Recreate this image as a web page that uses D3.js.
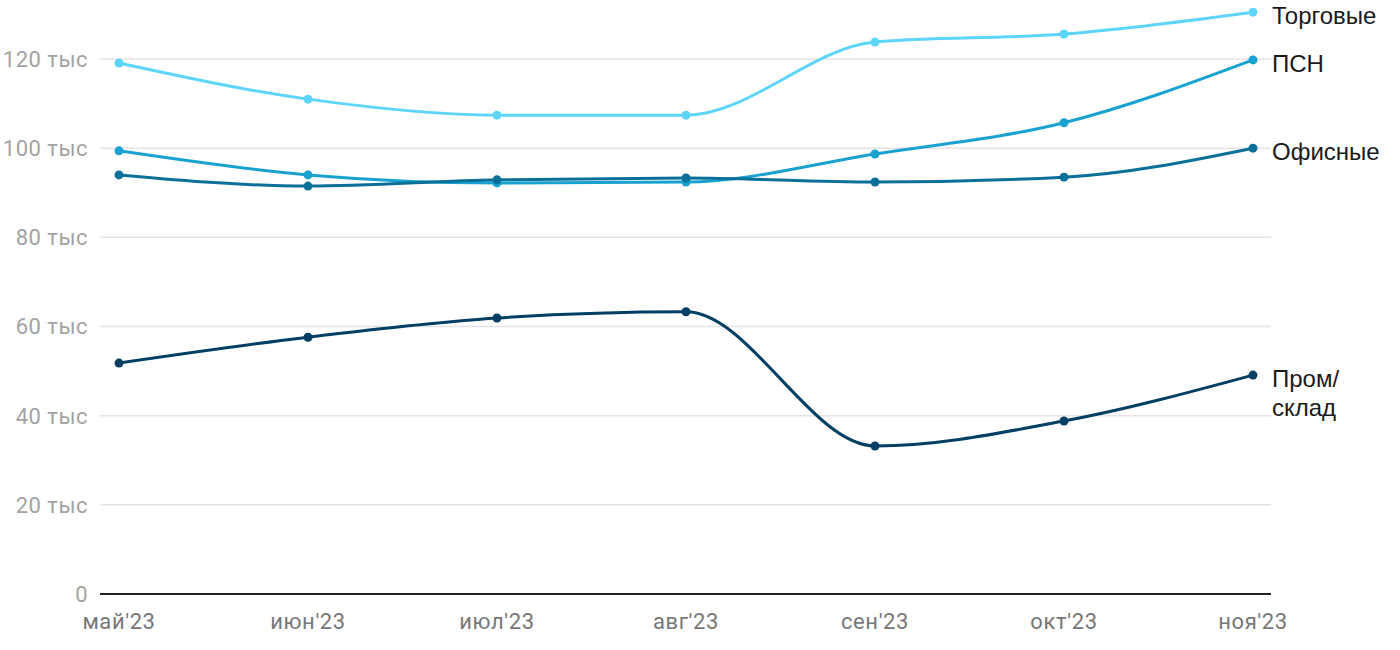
<!DOCTYPE html>
<html><head><meta charset="utf-8">
<script src="https://cdn.jsdelivr.net/npm/d3@7"></script>
<style>body{margin:0;background:#fff;font-family:Roboto,"Noto Sans",sans-serif;}</style>
</head><body><svg id="c" width="1400" height="650"></svg>
<script>
const months = ["май'23","июн'23","июл'23","авг'23","сен'23","окт'23","ноя'23"];
const torg = [119.1, 111.0, 107.4, 107.4, 123.8, 125.6, 130.5];
const psn = [99.4, 94.0, 92.2, 92.4, 98.7, 105.7, 119.8];
const ofis = [94.0, 91.5, 92.9, 93.3, 92.4, 93.5, 100.0];
const prom = [51.8, 57.6, 61.9, 63.3, 33.2, 38.8, 49.1];
const yTicks = [0, 20, 40, 60, 80, 100, 120];
const seriesNames = ["Торговые", "ПСН", "Офисные", "Пром/\nсклад"];
const seriesColors = ["#5dd5fb", "#19a2d0", "#0b7099", "#023f62"];
const seriesData = [torg, psn, ofis, prom];

const svg = d3.select("#c");
const x = d3.scalePoint().domain(months).range([119, 1253]);
const y = d3.scaleLinear().domain([0, 120]).range([594, 59]);
const left = 100, right = 1271;

const g = svg.append("g");
g.selectAll("line.grid").data(yTicks.filter(d => d > 0)).join("line")
  .attr("x1", left).attr("x2", right).attr("y1", d => y(d)).attr("y2", d => y(d))
  .attr("stroke", "#e3e3e3").attr("stroke-width", 1.5);
g.append("line").attr("x1", left).attr("x2", right).attr("y1", y(0)).attr("y2", y(0))
  .attr("stroke", "#222").attr("stroke-width", 2);

g.selectAll("text.yl").data(yTicks).join("text")
  .attr("x", 88).attr("y", d => y(d)).attr("dy", "0.36em").attr("text-anchor", "end")
  .attr("fill", "#a3a3a3").attr("font-size", 22).attr("letter-spacing", 0.5)
  .text(d => d === 0 ? "0" : d + " тыс");

g.selectAll("text.xl").data(months).join("text")
  .attr("x", d => x(d)).attr("y", 629).attr("text-anchor", "middle")
  .attr("fill", "#777").attr("font-size", 22).attr("letter-spacing", 0.6).text(d => d);

const line = d3.line().x((d, i) => x(months[i])).y(d => y(d)).curve(d3.curveMonotoneX);

seriesData.forEach((data, k) => {
  g.append("path").attr("d", line(data)).attr("fill", "none")
    .attr("stroke", seriesColors[k]).attr("stroke-width", 3);
  g.selectAll(null).data(data).join("circle")
    .attr("cx", (d, i) => x(months[i])).attr("cy", d => y(d)).attr("r", 4.5)
    .attr("fill", seriesColors[k]);
  const lines = seriesNames[k].split("\n");
  const t = g.append("text").attr("x", 1272).attr("y", y(data[data.length - 1]) + 3)
    .attr("fill", "#1a1a1a").attr("font-size", 24).attr("font-family", "'Liberation Sans', Arial, sans-serif");
  lines.forEach((s, j) => {
    t.append("tspan").attr("x", 1272).attr("dy", j === 0 ? "0.36em" : "1.2em").text(s);
  });
});
</script></body></html>
